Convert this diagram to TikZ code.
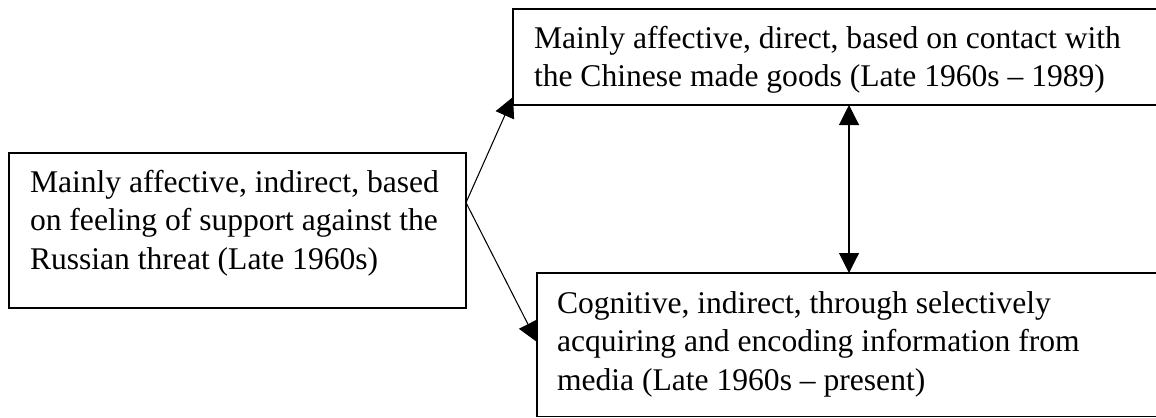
\documentclass[tikz,border=0pt]{standalone}
\usepackage{fontspec}
\setmainfont{Liberation Serif}
\usetikzlibrary{arrows.meta,calc}
\def\px{0.38pt}
\tikzset{
  box/.style={draw, line width=0.55pt, rectangle, anchor=north west, inner sep=0pt, outer sep=0pt},
  txt/.style={anchor=base west, inner sep=0pt, outer sep=0pt, font=\fontsize{12pt}{14.8pt}\selectfont},
  link/.style={line width=0.4pt, -{Triangle[length=7.6pt,width=7.6pt]}},
  dlink/.style={line width=0.4pt, {Triangle[length=7.6pt,width=7.6pt]}-{Triangle[length=7.6pt,width=7.6pt]}}
}
\begin{document}
\begin{tikzpicture}[x=0.38pt, y=-0.38pt]
\useasboundingbox (0,0) rectangle (1156,417);
\clip (0,0) rectangle (1156,417);
% boxes
\node[box, minimum width=457*\px, minimum height=155*\px] (lbox) at (9,153) {};
\node[box, minimum width=700*\px, minimum height=96*\px] (tbox) at (513,9) {};
\node[box, minimum width=700*\px, minimum height=143.5*\px] (bbox) at (537,273) {};
% texts
\node[txt] (ltext) at (30,192) {\begin{tabular}[t]{@{}l@{}}Mainly affective, indirect, based\\ on feeling of support against the\\ Russian threat (Late 1960s)\end{tabular}};
\node[txt] (ttext) at (534,48) {\begin{tabular}[t]{@{}l@{}}Mainly affective, direct, based on contact with\\ the Chinese made goods (Late 1960s – 1989)\end{tabular}};
\node[txt] (btext) at (557,313) {\begin{tabular}[t]{@{}l@{}}Cognitive, indirect, through selectively\\ acquiring and encoding information from\\ media (Late 1960s – present)\end{tabular}};
% connectors
\coordinate (src) at ($(lbox.north east)!0.32!(lbox.south east)$);
\draw[link] (src) -- ($(tbox.south west)+(0,-8)$);
\draw[link] (src) -- ($(bbox.north west)+(0,69)$);
\coordinate (vx) at (849,0);
\draw[dlink] (vx |- tbox.south) -- (vx |- bbox.north);
\end{tikzpicture}
\end{document}
